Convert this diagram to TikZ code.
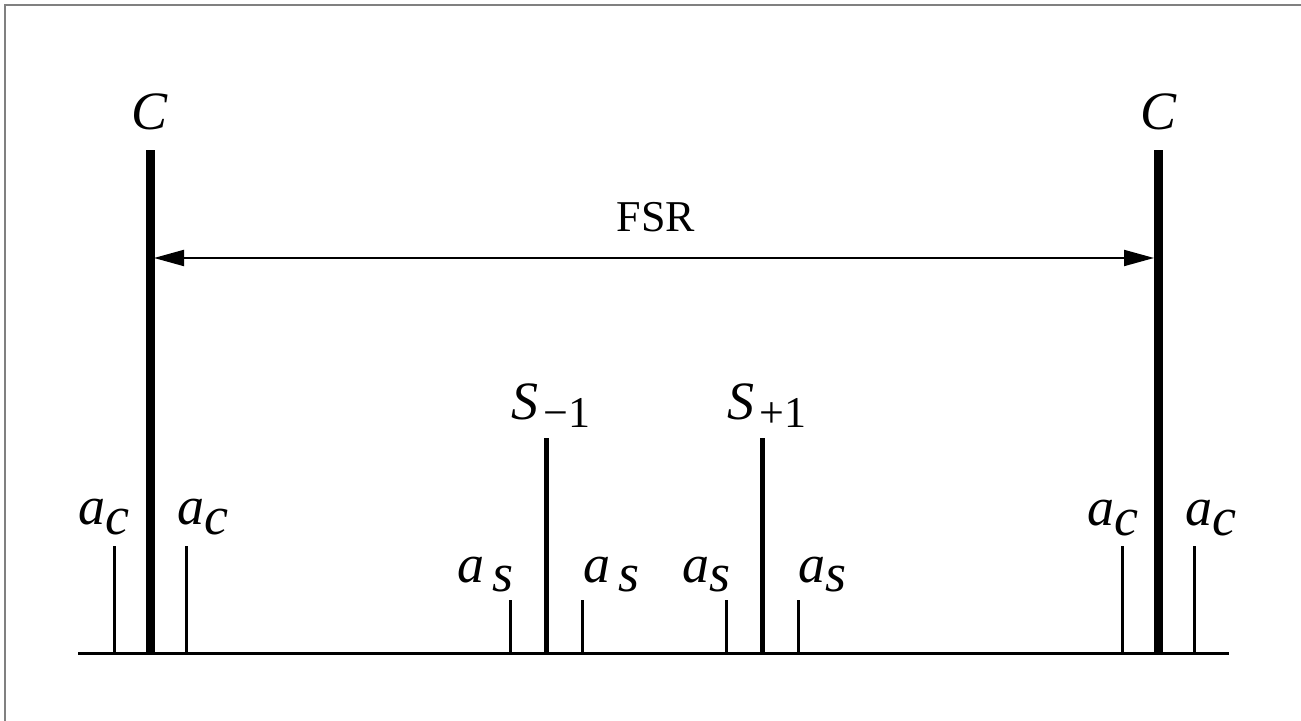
\documentclass[tikz,border=0pt]{standalone}
\usepackage{fontspec}
\setmainfont{Liberation Serif}
\usetikzlibrary{positioning,arrows.meta}

% lowered subscript
\newcommand{\dropsub}[2][5pt]{\raisebox{-#1}{#2}}
\newcommand{\numsub}[1]{\hspace{2.5pt}\raisebox{-4pt}{\fontsize{22}{24}\selectfont\upshape #1}}

\begin{document}
\begin{tikzpicture}[
	x=0.5pt, y=0.5pt
	,every node/.append style={inner sep=0pt, font=\fontsize{27}{30}\selectfont\itshape}
	,carrier/.style={line width=4.5pt}
	,side/.style={line width=2.5pt}
	,band/.style={line width=1.5pt}
	,lbl/.style={anchor=base west}
]
	\useasboundingbox (0,0) rectangle (1301,721);
	\draw[gray, line width=1pt] (5,0) |- (1301,716);

	% axis
	\coordinate (axL) at (78,67);
	\coordinate (axR) at (1229,67);
	\draw[band] (axL) -- (axR);

	% carriers
	\coordinate (cL) at (150,67);
	\coordinate (cR) at (1158,67);
	\draw[carrier] (cL) -- ++(0,504) coordinate (cLtop);
	\draw[carrier] (cR) -- ++(0,504) coordinate (cRtop);
	\node [anchor=base] (Cl) at (150,591) {C};
	\node [anchor=base] (Cr) at (1158,591) {C};

	% free spectral range
	\coordinate (fsrL) at (154,463);
	\coordinate (fsrR) at (1154,463);
	\draw[line width=1pt, {Triangle[length=15pt,width=8pt]}-{Triangle[length=15pt,width=8pt]}] (fsrL) -- (fsrR);
	\node [anchor=base, font=\fontsize{22}{24}\selectfont\upshape] (fsr) at (656,489) {FSR};

	% sidebands
	\coordinate (sM) at (546,67);
	\coordinate (sP) at (762,67);
	\draw[side] (sM) -- ++(0,216);
	\draw[side] (sP) -- ++(0,216);
	\node [lbl] (Sm) at (511,301) {S\numsub{−1}};
	\node [lbl] (Sp) at (727,301) {S\numsub{+1}};

	% small lines
	\foreach \x/\n in {114/1,186/2,1122/3,1194/4}
		\draw[band] (\x,67) coordinate (ac\n) -- ++(0,108);
	\foreach \x/\n in {510/1,582/2,726/3,798/4}
		\draw[band] (\x,67) coordinate (as\n) -- ++(0,54);

	\node [lbl] (acA) at (78,196) {a\dropsub{c}};
	\node [lbl] (acB) at (177,196) {a\dropsub{c}};
	\node [lbl] (acC) at (1087,195) {a\dropsub{c}};
	\node [lbl] (acD) at (1185,195) {a\dropsub{c}};

	\node [lbl] (asA) at (457,138) {a\hspace{4pt}\dropsub[4.5pt]{s}};
	\node [lbl] (asB) at (583,138) {a\hspace{4pt}\dropsub[4.5pt]{s}};
	\node [lbl] (asC) at (682,138) {a\dropsub[4.5pt]{s}};
	\node [lbl] (asD) at (798,138) {a\dropsub[4.5pt]{s}};
\end{tikzpicture}
\end{document}
